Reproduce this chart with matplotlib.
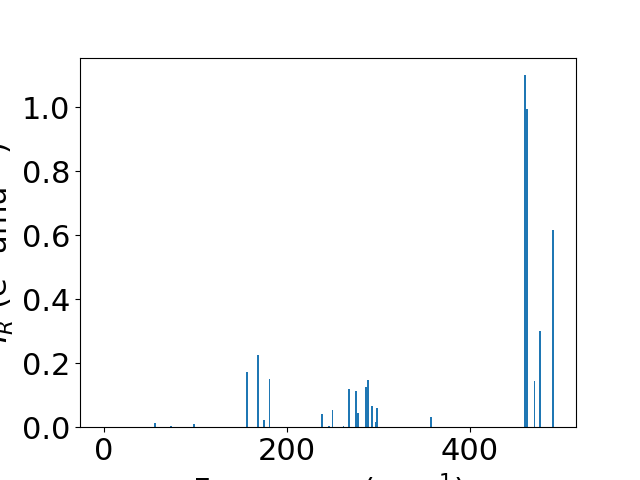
import matplotlib
matplotlib.use("Agg")
import matplotlib.pyplot as plt

frequencies = [0, 55.5, 73.6, 98, 156, 168.5, 175, 181, 238.5, 246, 250, 262, 268,
               276, 278, 286.8, 289, 293.4, 297.3, 299, 358, 460.4, 462.6, 471, 477, 491.6]
intensities = [0.0, 0.0125, 0.003, 0.009, 0.172, 0.225, 0.022, 0.15, 0.04, 0.003, 0.053, 0.004, 0.12,
               0.113, 0.045, 0.125, 0.147, 0.066, 0.016, 0.06, 0.031, 1.1, 0.994, 0.144, 0.30, 0.616]

plt.rcParams['font.size'] = 22
fig, ax = plt.subplots(figsize=(6.4, 4.8), dpi=100)
ax.bar(frequencies, intensities, width=2.0, color='#1f77b4')
ax.set_xlim(-26.4, 516.5)
ax.set_xlabel('Frequency (cm$^{-1}$)')
ax.set_ylabel('$I_R$ (e$^2$ amu$^{-1}$)')
fig.savefig('out.png')
